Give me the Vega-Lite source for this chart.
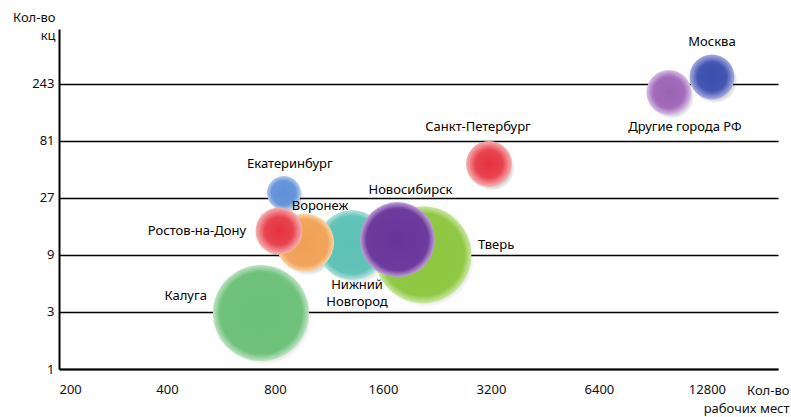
{
  "$schema": "https://vega.github.io/schema/vega-lite/v6.json",
  "width": 719,
  "height": 340,
  "autosize": {"type": "none"},
  "padding": {"left": 59, "top": 29, "right": 13, "bottom": 48},
  "background": "white",
  "config": {
    "view": {"stroke": null},
    "font": "Noto Sans",
    "axis": {"labelFont": "Noto Sans", "titleFont": "Noto Sans", "labelFontSize": 13, "titleFontSize": 13, "labelColor": "#111", "titleColor": "#111", "titleFontWeight": "normal"}
  },
  "data": {
    "values": [
      {"city": "Калуга", "jobs": 731, "kc": 2.94, "v": 2304},
      {"city": "Тверь", "jobs": 2068, "kc": 9.05, "v": 2352},
      {"city": "Нижний Новгород", "jobs": 1312, "kc": 10.9, "v": 1225},
      {"city": "Новосибирск", "jobs": 1756, "kc": 12.1, "v": 1406},
      {"city": "Екатеринбург", "jobs": 847, "kc": 29.7, "v": 289},
      {"city": "Воронеж", "jobs": 970, "kc": 11.4, "v": 841},
      {"city": "Ростов-на-Дону", "jobs": 821, "kc": 14.3, "v": 552},
      {"city": "Санкт-Петербург", "jobs": 3160, "kc": 52, "v": 529},
      {"city": "Другие города РФ", "jobs": 10030, "kc": 206, "v": 506},
      {"city": "Москва", "jobs": 13220, "kc": 278, "v": 506}
    ]
  },
  "encoding": {
    "x": {
      "field": "jobs", "type": "quantitative",
      "scale": {"type": "log", "base": 2, "domain": [200, 20200], "nice": false},
      "axis": {
        "values": [200, 400, 800, 1600, 3200, 6400, 12800],
        "format": "d", "grid": false, "ticks": false, "labelPadding": 14,
        "labelAlign": {"condition": {"test": "datum.value == 200", "value": "left"}, "value": "center"},
        "domainColor": "black", "domainWidth": 2, "labelFlush": false, "labelOverlap": false,
        "title": ["Кол-во", "рабочих мест"], "titleAlign": "right", "titleAnchor": "end",
        "titleX": 730, "titleY": 25, "titleBaseline": "alphabetic", "titleLineHeight": 18
      }
    },
    "y": {
      "field": "kc", "type": "quantitative",
      "scale": {"type": "log", "base": 3, "domain": [1, 700], "nice": false},
      "axis": {
        "values": [1, 3, 9, 27, 81, 243],
        "format": "d", "grid": true, "gridColor": "black", "gridWidth": 1.5, "gridOpacity": 1,
        "ticks": false, "labelPadding": 5,
        "domainColor": "black", "domainWidth": 2,
        "title": ["Кол-во", "кц"], "titleAngle": 0, "titleAlign": "right",
        "titleX": -4, "titleY": -8, "titleBaseline": "alphabetic", "titleLineHeight": 18
      }
    }
  },
  "layer": [
    {
      "mark": {"type": "circle", "opacity": 1, "xOffset": 3, "yOffset": 4,
        "color": {"gradient": "radial", "x1": 0.5, "y1": 0.5, "x2": 0.5, "y2": 0.5, "r1": 0, "r2": 0.5,
          "stops": [{"offset": 0, "color": "rgba(0,0,0,0.22)"}, {"offset": 0.8, "color": "rgba(0,0,0,0.18)"}, {"offset": 1, "color": "rgba(0,0,0,0)"}]}},
      "encoding": {"size": {"field": "v", "type": "quantitative", "scale": {"domain": [0, 2500], "range": [0, 10000]}, "legend": null}}
    },
    {
      "encoding": {"size": {"field": "v", "type": "quantitative", "scale": {"domain": [0, 2500], "range": [0, 10000]}, "legend": null}},
      "layer": [
        {"transform": [{"filter": "datum.city == 'Калуга'"}], "mark": {"type": "circle", "opacity": 1, "color": {"gradient": "radial", "x1": 0.5, "y1": 0.5, "x2": 0.5, "y2": 0.5, "r1": 0, "r2": 0.5, "stops": [{"offset": 0, "color": "#6bbf78"}, {"offset": 0.85, "color": "#6fc17c"}, {"offset": 1, "color": "#bfe3c4"}]}}},
        {"transform": [{"filter": "datum.city == 'Тверь'"}], "mark": {"type": "circle", "opacity": 1, "color": {"gradient": "radial", "x1": 0.5, "y1": 0.5, "x2": 0.5, "y2": 0.5, "r1": 0, "r2": 0.5, "stops": [{"offset": 0, "color": "#8cc63f"}, {"offset": 0.85, "color": "#90c845"}, {"offset": 1, "color": "#cbe8a4"}]}}},
        {"transform": [{"filter": "datum.city == 'Нижний Новгород'"}], "mark": {"type": "circle", "opacity": 1, "color": {"gradient": "radial", "x1": 0.5, "y1": 0.5, "x2": 0.5, "y2": 0.5, "r1": 0, "r2": 0.5, "stops": [{"offset": 0, "color": "#5cc1b6"}, {"offset": 0.82, "color": "#62c3b8"}, {"offset": 1, "color": "#b5e4de"}]}}},
        {"transform": [{"filter": "datum.city == 'Новосибирск'"}], "mark": {"type": "circle", "opacity": 1, "color": {"gradient": "radial", "x1": 0.5, "y1": 0.5, "x2": 0.5, "y2": 0.5, "r1": 0, "r2": 0.5, "stops": [{"offset": 0, "color": "#68349a"}, {"offset": 0.82, "color": "#6d3a9e"}, {"offset": 1, "color": "#c0a2d8"}]}}},
        {"transform": [{"filter": "datum.city == 'Екатеринбург'"}], "mark": {"type": "circle", "opacity": 1, "color": {"gradient": "radial", "x1": 0.5, "y1": 0.5, "x2": 0.5, "y2": 0.5, "r1": 0, "r2": 0.5, "stops": [{"offset": 0, "color": "#5f8fd8"}, {"offset": 0.72, "color": "#6896da"}, {"offset": 1, "color": "#b7cdee"}]}}},
        {"transform": [{"filter": "datum.city == 'Воронеж'"}], "mark": {"type": "circle", "opacity": 1, "color": {"gradient": "radial", "x1": 0.5, "y1": 0.5, "x2": 0.5, "y2": 0.5, "r1": 0, "r2": 0.5, "stops": [{"offset": 0, "color": "#f0a055"}, {"offset": 0.8, "color": "#f1a55c"}, {"offset": 1, "color": "#f9d5ab"}]}}},
        {"transform": [{"filter": "datum.city == 'Ростов-на-Дону'"}], "mark": {"type": "circle", "opacity": 1, "color": {"gradient": "radial", "x1": 0.5, "y1": 0.5, "x2": 0.5, "y2": 0.5, "r1": 0, "r2": 0.5, "stops": [{"offset": 0, "color": "#e5303e"}, {"offset": 0.6, "color": "#e84350"}, {"offset": 1, "color": "#f6b3b3"}]}}},
        {"transform": [{"filter": "datum.city == 'Санкт-Петербург'"}], "mark": {"type": "circle", "opacity": 1, "color": {"gradient": "radial", "x1": 0.5, "y1": 0.5, "x2": 0.5, "y2": 0.5, "r1": 0, "r2": 0.5, "stops": [{"offset": 0, "color": "#e5303e"}, {"offset": 0.6, "color": "#e84350"}, {"offset": 1, "color": "#f6b3b3"}]}}},
        {"transform": [{"filter": "datum.city == 'Другие города РФ'"}], "mark": {"type": "circle", "opacity": 1, "color": {"gradient": "radial", "x1": 0.5, "y1": 0.5, "x2": 0.5, "y2": 0.5, "r1": 0, "r2": 0.5, "stops": [{"offset": 0, "color": "#9a62b3"}, {"offset": 0.7, "color": "#a26cba"}, {"offset": 1, "color": "#d8bfe6"}]}}},
        {"transform": [{"filter": "datum.city == 'Москва'"}], "mark": {"type": "circle", "opacity": 1, "color": {"gradient": "radial", "x1": 0.5, "y1": 0.5, "x2": 0.5, "y2": 0.5, "r1": 0, "r2": 0.5, "stops": [{"offset": 0, "color": "#3a4cad"}, {"offset": 0.65, "color": "#4356b2"}, {"offset": 1, "color": "#a9aee0"}]}}}
      ]
    },
    {"transform": [{"filter": "datum.city == 'Москва'"}], "mark": {"type": "text", "fontSize": 13, "color": "black", "align": "center", "baseline": "middle", "dy": -35}, "encoding": {"text": {"field": "city"}}},
    {"transform": [{"filter": "datum.city == 'Другие города РФ'"}], "mark": {"type": "text", "fontSize": 13, "color": "black", "align": "center", "baseline": "middle", "dx": 16, "dy": 35}, "encoding": {"text": {"field": "city"}}},
    {"transform": [{"filter": "datum.city == 'Санкт-Петербург'"}], "mark": {"type": "text", "fontSize": 13, "color": "black", "align": "center", "baseline": "middle", "dx": -11, "dy": -37}, "encoding": {"text": {"field": "city"}}},
    {"transform": [{"filter": "datum.city == 'Екатеринбург'"}], "mark": {"type": "text", "fontSize": 13, "color": "black", "align": "center", "baseline": "middle", "dx": 6, "dy": -29}, "encoding": {"text": {"field": "city"}}},
    {"transform": [{"filter": "datum.city == 'Воронеж'"}], "mark": {"type": "text", "fontSize": 13, "color": "black", "align": "center", "baseline": "middle", "dx": 15, "dy": -37}, "encoding": {"text": {"field": "city"}}},
    {"transform": [{"filter": "datum.city == 'Ростов-на-Дону'"}], "mark": {"type": "text", "fontSize": 13, "color": "black", "align": "right", "baseline": "middle", "dx": -33, "dy": 0}, "encoding": {"text": {"field": "city"}}},
    {"transform": [{"filter": "datum.city == 'Новосибирск'"}], "mark": {"type": "text", "fontSize": 13, "color": "black", "align": "center", "baseline": "middle", "dx": 13, "dy": -50}, "encoding": {"text": {"field": "city"}}},
    {"transform": [{"filter": "datum.city == 'Тверь'"}], "mark": {"type": "text", "fontSize": 13, "color": "black", "align": "left", "baseline": "middle", "dx": 55, "dy": -10}, "encoding": {"text": {"field": "city"}}},
    {"transform": [{"filter": "datum.city == 'Нижний Новгород'"}], "mark": {"type": "text", "fontSize": 13, "color": "black", "align": "center", "baseline": "top", "dx": 5, "dy": 34, "lineBreak": " ", "lineHeight": 17}, "encoding": {"text": {"field": "city"}}},
    {"transform": [{"filter": "datum.city == 'Калуга'"}], "mark": {"type": "text", "fontSize": 13, "color": "black", "align": "right", "baseline": "middle", "dx": -54, "dy": -17}, "encoding": {"text": {"field": "city"}}}
  ]
}
